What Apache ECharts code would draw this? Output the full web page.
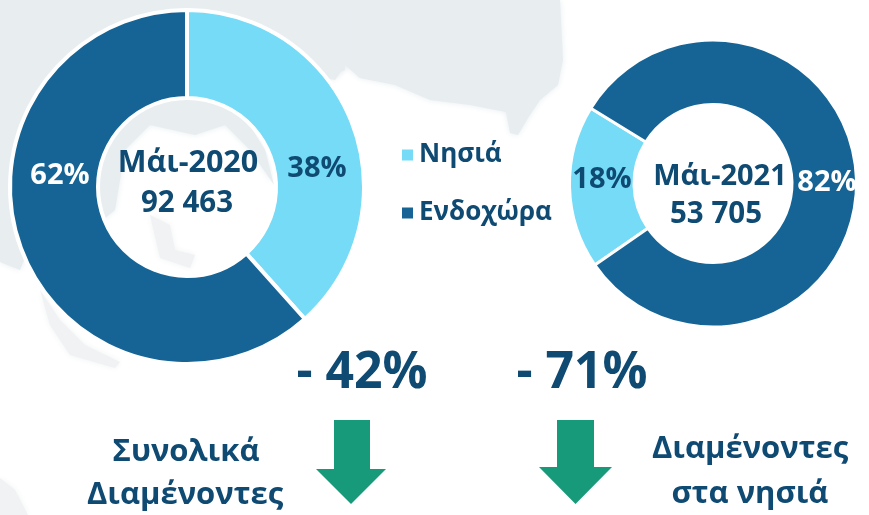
<!DOCTYPE html>
<html><head><meta charset="utf-8">
<style>html,body{margin:0;padding:0;background:#fff}#c{width:869px;height:515px}</style>
<script src="https://cdn.jsdelivr.net/npm/echarts@6/dist/echarts.min.js"></script>
</head><body><div id="c"></div>
<script>
const categories = ['Νησιά', 'Ενδοχώρα'];
const may2020 = [38.4, 61.6];
const may2021 = [18.4, 81.6];
const centre2020 = ['Μάι-2020', '92 463'];
const centre2021 = ['Μάι-2021', '53 705'];
const changes = ['- 42%', '- 71%'];
const captionLeft = ['Συνολικά', 'Διαμένοντες'];
const captionRight = ['Διαμένοντες', 'στα νησιά'];

const DARK = '#156495', LIGHT = '#75DBF6', INK = '#0F4A73', GREEN = '#169A7A', MAP = '#E8EDF0', MAP2 = '#F0F2F3';
const FONT = '"Open Sans","Noto Sans",sans-serif';

const pieSeries = (values, center, radius, startAngle, border, labelSize, spots) => ({
  type: 'pie', center, radius, startAngle, clockwise: true, silent: true, z: 5,
  itemStyle: { borderColor: '#fff', borderWidth: border },
  label: { position: 'inside', formatter: p => Math.round(p.percent) + '%', fontFamily: FONT, fontWeight: 700, fontSize: labelSize },
  labelLine: { show: false },
  labelLayout: p => ({ x: spots[p.dataIndex][0], y: spots[p.dataIndex][1], align: 'center', verticalAlign: 'middle' }),
  data: categories.map((name, i) => ({
    name, value: values[i],
    itemStyle: { color: i === 0 ? LIGHT : DARK },
    label: { color: i === 0 ? INK : '#fff' }
  }))
});

const text = (str, x, y, size, sx) => ({
  type: 'text', x, y, scaleX: sx || 1, z: 20, silent: true,
  style: { text: str, fill: INK, font: `700 ${size}px ${FONT}`, textAlign: 'center', textVerticalAlign: 'middle' }
});
const arrow = (l, r, sl, sr, top, neck, tip) => ({
  type: 'polygon', z: 10, silent: true,
  shape: { points: [[sl, top], [sr, top], [sr, neck], [r, neck], [(l + r) / 2, tip], [l, neck], [sl, neck]] },
  style: { fill: GREEN }
});
const land = (pts, fill) => ({
  type: 'polygon', z: 0, silent: true, shape: { points: pts },
  style: { fill: fill || MAP, shadowBlur: 6, shadowColor: fill || MAP }
});

const chart = echarts.init(document.getElementById('c'), null, { renderer: 'canvas' });
chart.setOption({
  animation: false,
  backgroundColor: '#fff',
  legend: {
    left: 395, top: 137, orient: 'vertical', itemWidth: 13, itemHeight: 13, itemGap: 32,
    icon: 'rect', selectedMode: false, data: categories,
    textStyle: { fontFamily: FONT, fontWeight: 700, fontSize: 26, lineHeight: 25, color: INK }
  },
  series: [
    pieSeries(may2020, ['187', '187'], [89, 177], 90, 4, 29, [[317, 169], [60, 176]]),
    pieSeries(may2021, ['713', '183.5'], [79, 143.5], -145.4, 3, 29, [[602, 180], [827, 183]])
  ],
  graphic: [
    land([[0,0],[560,0],[563,60],[558,85],[540,100],[528,118],[518,135],[510,133],[506,112],[470,105],[430,100],[395,85],[360,78],[345,65],[335,80],[0,0]]),
    land([[0,0],[345,0],[345,70],[300,90],[240,110],[265,150],[274,185],[250,150],[225,125],[195,135],[150,125],[125,150],[115,210],[90,230],[30,245],[20,270],[0,262]]),
    land([[40,290],[60,320],[85,345],[120,362],[115,368],[70,355],[50,325]], MAP2),
    land([[0,478],[15,490],[28,515],[0,515]], MAP2),
    land([[150,215],[170,225],[175,250],[195,255],[190,268],[160,258]], MAP2),
    text(centre2020[0], 188, 163, 30.5),
    text(centre2020[1], 187, 204, 29.5),
    text(centre2021[0], 720, 177, 29),
    text(centre2021[1], 716, 215, 29.5),
    text(changes[0], 362, 373, 52, 0.96),
    text(changes[1], 582, 373, 52, 0.96),
    text(captionLeft[0], 186, 452, 31),
    text(captionLeft[1], 185, 495, 31),
    text(captionRight[0], 750, 449, 31),
    text(captionRight[1], 750, 494, 31),
    arrow(316, 386, 334, 370, 420, 469, 504),
    arrow(539, 612, 557, 594, 420, 467, 504)
  ]
});
</script></body></html>
